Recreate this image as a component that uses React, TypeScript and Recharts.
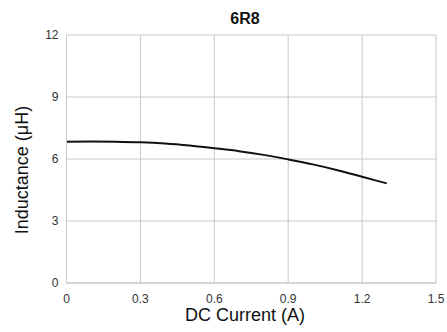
import { LineChart, Line, XAxis, YAxis, CartesianGrid } from 'recharts';

const current = [0, 0.1, 0.2, 0.3, 0.4, 0.5, 0.6, 0.7, 0.8, 0.9, 1.0, 1.1, 1.2, 1.3];
const inductance = [6.84, 6.85, 6.84, 6.81, 6.75, 6.65, 6.52, 6.38, 6.2, 5.98, 5.74, 5.46, 5.14, 4.82];

const xTicks = [0, 0.3, 0.6, 0.9, 1.2, 1.5];
const yTicks = [0, 3, 6, 9, 12];

const data = current.map((c, i) => ({ current: c, inductance: inductance[i] }));

const GRID = '#c8c8c8';
const FONT = '"Liberation Sans", Arial, sans-serif';

export default function App() {
  return (
    // fixed frame so the page never scrolls
    <div style={{ position: 'fixed', left: 0, top: 0, width: 447, height: 332, overflow: 'hidden', background: '#fff' }}>
      <div style={{ position: 'absolute', left: 8, top: 8, width: 439, height: 324, fontFamily: FONT }}>
        <LineChart
          width={439}
          height={316}
          data={data}
          margin={{ top: 27, right: 11, left: 0, bottom: 0 }}
        >
          <CartesianGrid stroke={GRID} strokeWidth={1} />
          <XAxis
            dataKey="current"
            type="number"
            domain={[0, 1.5]}
            ticks={xTicks}
            tickFormatter={(v: number) => String(v)}
            axisLine={{ stroke: GRID }}
            tickLine={false}
            tickSize={0}
            tickMargin={11}
            height={41}
            tick={{ fill: '#333', fontSize: 12, fontFamily: FONT }}
          />
          <YAxis
            type="number"
            domain={[0, 12]}
            ticks={yTicks}
            axisLine={{ stroke: GRID }}
            tickLine={false}
            tickSize={0}
            tickMargin={8}
            width={58.5}
            tick={{ fill: '#333', fontSize: 12, fontFamily: FONT }}
          />
          <Line
            type="monotone"
            dataKey="inductance"
            stroke="#111"
            strokeWidth={2}
            dot={false}
            isAnimationActive={false}
          />
        </LineChart>
        {/* title and axis titles */}
        <svg
          width={439}
          height={324}
          style={{ position: 'absolute', left: 0, top: 0, pointerEvents: 'none', overflow: 'visible' }}
        >
          <text x={237} y={16} textAnchor="middle" fontFamily={FONT} fontSize={16} fontWeight="bold" fill="#111">
            6R8
          </text>
          <text x={237} y={313} textAnchor="middle" fontFamily={FONT} fontSize={18} fill="#111">
            DC Current (A)
          </text>
          <text
            x={0}
            y={0}
            transform="translate(20,162) rotate(-90)"
            textAnchor="middle"
            fontFamily={FONT}
            fontSize={18}
            fill="#111"
          >
            Inductance (μH)
          </text>
        </svg>
      </div>
    </div>
  );
}
